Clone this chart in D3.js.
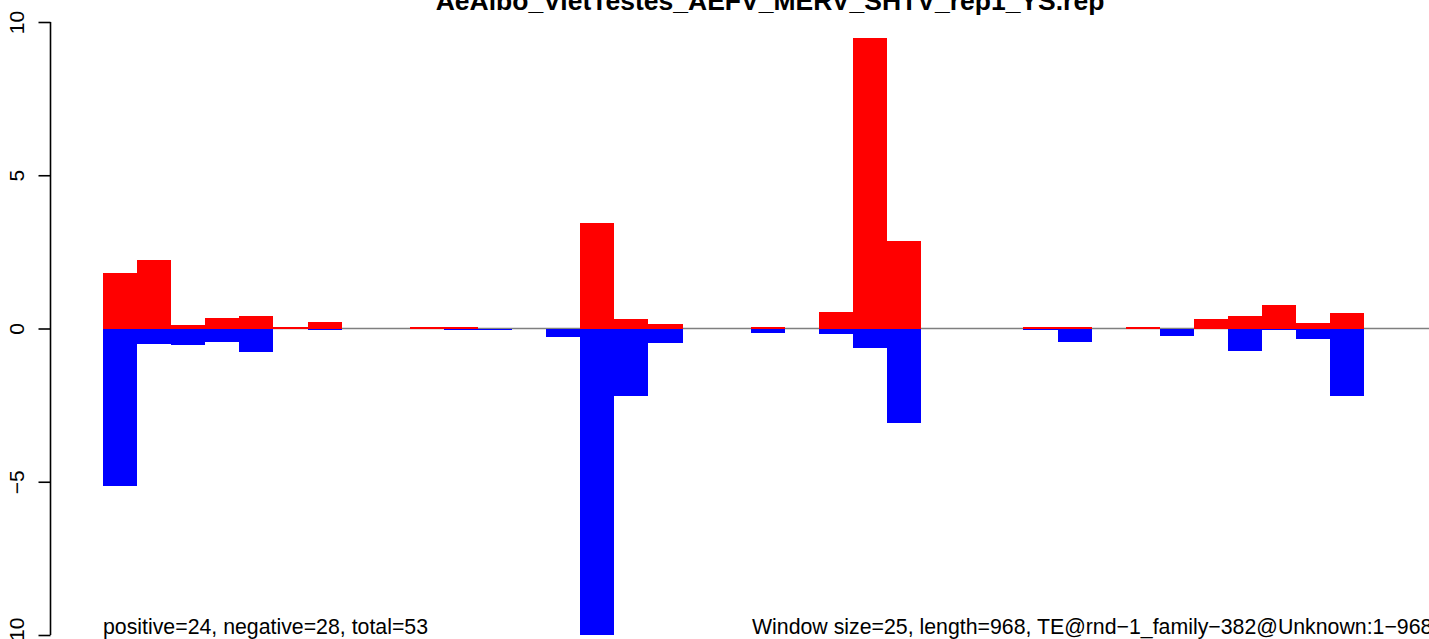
<!DOCTYPE html>
<html>
<head>
<meta charset="utf-8">
<script src="https://cdn.jsdelivr.net/npm/d3@7"></script>
<style>
  html, body { margin: 0; padding: 0; background: #fff; overflow: hidden; }
  svg { display: block; font-family: "Liberation Sans", Arial, Helvetica, sans-serif; }
</style>
</head>
<body>
<svg id="chart" width="1429" height="639"></svg>
<script>
// ---- data ----
const title = "AeAlbo_VietTestes_AEFV_MERV_SHTV_rep1_YS.rep";
const windowSize = 25;
const teLength = 968;
const windowStarts = d3.range(0, teLength, windowSize);
const positiveValues = [1.80, 2.24, 0.10, 0.34, 0.40, 0.04, 0.20, 0, 0, 0.04,
                        0.04, 0, 0, 0, 3.45, 0.30, 0.14, 0, 0, 0.04,
                        0, 0.53, 9.49, 2.84, 0, 0, 0, 0.04, 0.04, 0,
                        0.04, 0, 0.32, 0.42, 0.78, 0.19, 0.52, 0, 0];
const negativeValues = [-5.15, -0.49, -0.55, -0.45, -0.78, 0, -0.065, 0, 0, 0,
                        -0.065, -0.065, 0, -0.28, -10, -2.2, -0.48, 0, 0, -0.15,
                        0, -0.19, -0.65, -3.08, 0, 0, 0, -0.05, -0.45, 0,
                        0, -0.25, 0, -0.74, -0.05, -0.35, -2.2, 0, 0];
const yTicks = [-10, -5, 0, 5, 10];
const leftNote = "positive=24, negative=28, total=53";
const rightNote = "Window size=25, length=968, TE@rnd\u22121_family\u2212382@Unknown:1\u2212968";

// ---- scales ----
const svg = d3.select("#chart");
const x = d3.scaleLinear().domain([0, teLength]).range([103, 1423]);
const y = d3.scaleLinear().domain([-10, 10]).range([635, 22]);

const rows = windowStarts.map((s, i) => ({ s, e: s + windowSize, p: positiveValues[i], n: negativeValues[i] }));

// zero line (drawn beneath the bars)
svg.append("line")
  .attr("x1", x(0)).attr("x2", 1429)
  .attr("y1", y(0)).attr("y2", y(0))
  .attr("stroke", "#7f7f7f").attr("stroke-width", 1.6);

// positive bars
svg.append("g").selectAll("rect").data(rows.filter(d => d.p > 0)).join("rect")
  .attr("x", d => x(d.s)).attr("width", d => x(d.e) - x(d.s))
  .attr("y", d => y(d.p)).attr("height", d => y(0) - y(d.p))
  .attr("fill", "#ff0000").attr("shape-rendering", "crispEdges");

// negative bars
svg.append("g").selectAll("rect").data(rows.filter(d => d.n < 0)).join("rect")
  .attr("x", d => x(d.s)).attr("width", d => x(d.e) - x(d.s))
  .attr("y", y(0)).attr("height", d => y(d.n) - y(0))
  .attr("fill", "#0000ff").attr("shape-rendering", "crispEdges");

// y axis
const axisX = 50.5;
const yAxis = d3.axisLeft(y).tickValues(yTicks).tickSize(12).tickPadding(15)
  .tickFormat(d => d < 0 ? "\u2212" + Math.abs(d) : String(d));
const ag = svg.append("g").attr("transform", `translate(${axisX},0)`).call(yAxis);
ag.select(".domain").attr("stroke", "#000").attr("stroke-width", 1.6)
  .attr("d", `M0,${y(10)}V${y(-10)}`);
ag.selectAll(".tick line").attr("stroke", "#000").attr("stroke-width", 1.6);
ag.selectAll(".tick text")
  .attr("font-size", 21).attr("fill", "#000")
  .attr("font-family", "'Liberation Sans', Arial, sans-serif")
  .attr("text-anchor", "middle")
  .attr("dy", 0)
  .attr("transform", "translate(-27,0) rotate(-90)")
  .attr("x", 0).attr("y", 0);

// title
svg.append("text").attr("x", 770).attr("y", 10)
  .attr("text-anchor", "middle").attr("font-size", 26.5).attr("font-weight", "bold")
  .text(title);

// notes
svg.append("text").attr("x", 103).attr("y", 634)
  .attr("font-size", 21.3).text(leftNote);
svg.append("text").attr("x", 752).attr("y", 634)
  .attr("font-size", 21.3).text(rightNote);
</script>
</body>
</html>
